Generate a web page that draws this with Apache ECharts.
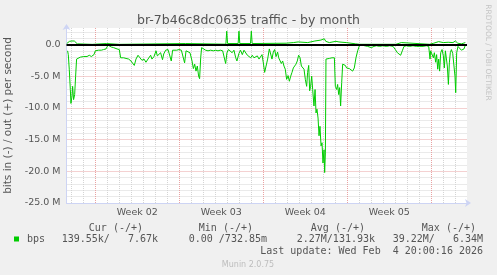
<!DOCTYPE html>
<html><head><meta charset="utf-8">
<script src="https://cdn.jsdelivr.net/npm/echarts@6/dist/echarts.min.js"></script>
<style>html,body{margin:0;padding:0;background:#f0f0f0}#c{width:497px;height:275px}</style>
</head><body><div id="c"></div>
<script>
// ---- text ----
const chartTitle = 'br-7b46c8dc0635 traffic - by month';
const yAxisName = 'bits in (-) / out (+) per second';
const weekLabels = ['Week 02', 'Week 03', 'Week 04', 'Week 05'];
const legendName = 'bps';
const legendHeaders = ['Cur (-/+)', 'Min (-/+)', 'Avg (-/+)', 'Max (-/+)'];
const legendValues = ['139.55k/   7.67k', '0.00 /732.85m', '2.27M/131.93k', '39.22M/   6.34M'];
const lastUpdate = 'Last update: Wed Feb  4 20:00:16 2026';
const footer = 'Munin 2.0.75';
const sideText = 'RRDTOOL / TOBI OETIKER';

// ---- data: x = days since Mon 5 Jan 2026 00:00, y = Mbit/s ----
const inDays = [-2.31,-2.25,-2.17,-2.08,-2.03,-1.94,-1.89,-1.81,-1.72,-1.64,-1.56,-1.44,-1.25,-0.97,-0.69,-0.5,-0.33,-0.11,0,0.28,0.5,0.69,0.89,1.06,1.17,1.33,1.53,1.81,2.0,2.11,2.36,2.56,2.78,2.97,3.11,3.25,3.39,3.56,3.72,3.89,4.06,4.22,4.39,4.5,4.61,4.72,4.89,5.06,5.17,5.28,5.44,5.6,5.7,5.86,6.06,6.22,6.33,6.44,6.56,6.78,6.97,7.17,7.33,7.44,7.56,7.72,7.89,8.06,8.17,8.28,8.39,8.5,8.61,8.69,8.78,8.86,9.0,9.19,9.39,9.61,9.83,10.03,10.22,10.42,10.61,10.75,10.86,10.97,11.1,11.2,11.4,11.55,11.7,11.8,11.97,12.1,12.25,12.39,12.53,12.67,12.8,12.95,13.08,13.22,13.36,13.5,13.64,13.78,13.89,14.0,14.11,14.2,14.36,14.5,14.61,14.72,14.83,14.94,15.06,15.19,15.28,15.39,15.5,15.61,15.72,15.83,15.94,16.06,16.17,16.28,16.39,16.5,16.61,16.72,16.83,16.94,17.06,17.17,17.28,17.39,17.5,17.61,17.69,17.78,17.86,17.94,18.03,18.11,18.22,18.31,18.39,18.47,18.56,18.64,18.72,18.81,18.89,18.97,19.06,19.11,19.17,19.22,19.31,19.5,19.72,19.92,20.0,20.11,20.19,20.28,20.36,20.44,20.53,20.61,20.72,20.83,20.94,21.06,21.17,21.31,21.44,21.58,21.72,21.86,22.0,22.22,22.44,22.69,23.0,23.22,23.42,23.69,23.97,24.25,24.53,24.81,25.0,25.17,25.31,25.44,25.58,25.72,25.92,26.19,26.47,26.75,27.03,27.31,27.58,27.78,27.89,27.94,28.06,28.17,28.25,28.36,28.44,28.53,28.61,28.69,28.78,28.89,29.0,29.08,29.17,29.25,29.33,29.42,29.5,29.58,29.67,29.78,29.89,29.97,30.03,30.11,30.22,30.36,30.5,30.61,30.72,30.83];
const inValues = [-1.0,-1.6,-3.9,-7.1,-9.3,-8.1,-6.6,-8.7,-7.9,-5.0,-2.3,-2.1,-2.0,-1.9,-1.9,-1.7,-1.9,-1.6,-1.0,-0.9,-0.9,-0.8,-0.7,-0.1,-0.3,-0.4,-0.5,-0.7,-0.8,-2.1,-2.1,-2.2,-2.3,-2.6,-2.4,-3.3,-2.3,-1.7,-2.1,-2.5,-2.3,-2.8,-2.3,-2.1,-1.7,-2.3,-1.9,-1.0,-1.8,-2.1,-1.3,-2.4,-1.5,-0.9,-0.8,-1.0,-2.6,-0.9,-0.7,-0.9,-0.8,-0.9,-0.8,-2.9,-1.0,-0.7,-1.3,-2.6,-3.8,-3.1,-4.2,-3.4,-5.0,-5.4,-2.1,-0.5,-0.7,-0.9,-1.0,-0.9,-1.0,-0.9,-1.0,-0.9,-1.0,-0.9,-3.0,-1.3,-0.8,-0.5,-1.3,-0.9,-2.1,-2.6,-1.4,-0.9,-1.6,-0.9,-1.2,-1.7,-1.6,-2.1,-1.7,-2.1,-2.4,-1.8,-2.3,-2.1,-1.6,-2.9,-4.4,-4.7,-2.3,-0.7,-0.5,-2.3,-1.2,-0.8,-1.9,-1.2,-2.1,-2.3,-3.0,-2.6,-3.4,-3.9,-5.5,-4.9,-5.8,-5.0,-4.4,-3.7,-3.9,-3.1,-2.6,-1.7,-2.1,-3.4,-3.3,-3.9,-5.5,-6.6,-4.4,-3.3,-7.3,-6.6,-5.0,-7.1,-9.7,-7.1,-10.8,-10.2,-11.6,-14.4,-12.9,-16.0,-15.5,-18.7,-16.6,-20.2,-17.1,-2.3,-2.1,-2.2,-2.1,-2.1,-6.6,-7.1,-6.3,-7.9,-6.8,-9.7,-6.0,-3.1,-3.4,-3.3,-3.7,-3.7,-3.8,-3.9,-4.2,-3.7,-2.1,-1.0,-0.2,-0.1,-0.2,-0.3,-0.5,-0.3,-0.2,-0.3,-0.2,-0.3,-0.2,-0.3,-0.8,-1.3,-1.6,-1.7,-1.0,-0.3,-0.2,-0.3,-0.2,-0.3,-0.3,-0.3,-0.2,-0.3,-2.3,-1.0,-0.7,-2.1,-1.3,-2.8,-1.6,-3.9,-2.3,-4.2,-1.3,-0.8,-1.8,-3.7,-1.0,-0.8,-3.4,-6.3,-2.9,-1.3,-0.8,-1.4,-1.2,-5.0,-7.6,-1.3,-0.3,-0.5,-0.9,-0.9,-0.7,-0.1];
const outDays = [-2.38,-2.3,-2.15,-1.95,-1.75,-1.6,-1.5,-1.4,-0.25,-0.2,0.95,1.0,2.0,2.05,7.5,7.55,10.88,10.95,11.02,11.9,11.97,12.04,12.93,13.0,13.07,15.9,16.5,16.9,17.7,18.3,18.8,19.08,19.2,19.5,20.05,20.3,20.9,21.7,22.0,25.05,25.1,25.5,25.55,27.85,27.9,28.2,28.6,29.0,29.4,29.8,30.0,30.2,30.5,30.83];
const outValues = [0.15,0.35,0.5,0.55,0.55,0.4,0.1,0.02,0.02,0.15,0.15,0.02,0.02,0.15,0.15,0.05,0.05,2.1,0.15,0.15,2.1,0.15,0.15,2.1,0.15,0.2,0.3,0.4,0.3,0.55,0.7,0.9,0.5,0.3,0.5,0.4,0.3,0.1,0.03,0.03,0.3,0.3,0.03,0.03,0.3,0.2,0.45,0.3,0.35,0.3,0.55,0.2,0.1,0.3];

const xMin = -2.4, xMax = 30.97;
const yMin = -25, yMax = 2.6;
const dayOffsets = [1, 2, 3, 4, 5, 6];   // day-lines between week lines
const mOffsets = [1, 2, 3, 4];           // 1M-lines between 5M lines

const inData = inDays.map((d, i) => [d, inValues[i]]);
const outData = outDays.map((d, i) => [d, outValues[i]]);

const FONT = 'DejaVu Sans';
const MONO = 'DejaVu Sans Mono';
const TXT = '#555';
const minorGrid = {show: true, showMinLine: false, showMaxLine: false, lineStyle: {color: '#d4d4d4', width: 1, type: [1, 1]}};
const majorGrid = {show: true, showMinLine: false, showMaxLine: false, lineStyle: {color: '#e9a2a2', width: 1, type: [1, 1]}};
const axisBlue = '#cdd4f4';
const hidden = {axisLine: {show: false, onZero: false}, axisTick: {show: false}, axisLabel: {show: false}};

const chart = echarts.init(document.getElementById('c'), null, {renderer: 'canvas'});
const headerRight = [143, 253, 365, 476];
const valueRight = [158, 267, 375, 483];
const graphics = [
  {type: 'rect', shape: {x: 14, y: 236.5, width: 5, height: 5}, style: {fill: '#00cc00'}},
  {type: 'text', x: 27, y: 239.5, style: {text: legendName, font: '10px "' + MONO + '"', fill: TXT, align: 'left', verticalAlign: 'middle'}},
  {type: 'text', x: 483, y: 251.5, style: {text: lastUpdate, font: '10px "' + MONO + '"', fill: TXT, align: 'right', verticalAlign: 'middle'}},
  {type: 'text', x: 248, y: 264.5, style: {text: footer, font: '8px "' + FONT + '"', fill: '#bdbdbd', align: 'center', verticalAlign: 'middle'}},
  {type: 'text', x: 488, y: 52.5, rotation: -Math.PI / 2, style: {text: sideText, font: '7.5px "' + FONT + '"', fill: '#c4c4c4', align: 'center', verticalAlign: 'middle'}}
];
legendHeaders.forEach((h, i) => graphics.push({type: 'text', x: headerRight[i], y: 228, style: {text: h, font: '10px "' + MONO + '"', fill: TXT, align: 'right', verticalAlign: 'middle'}}));
legendValues.forEach((v, i) => graphics.push({type: 'text', x: valueRight[i], y: 239.5, style: {text: v, font: '10px "' + MONO + '"', fill: TXT, align: 'right', verticalAlign: 'middle'}}));

// x axes: 0 = main (axis line), 1 = week grid, 2 = week labels (shifted half a week), 3.. = day grid
const xAxes = [
  {type: 'value', position: 'bottom', min: xMin, max: xMax, splitNumber: 5, minInterval: 7, maxInterval: 7,
   axisLine: {show: true, onZero: false, lineStyle: {color: axisBlue, width: 1}, symbol: ['none', 'arrow'], symbolSize: [6, 6], symbolOffset: [0, 4]},
   axisTick: {show: false}, axisLabel: {show: false}, splitLine: {show: false}},
  Object.assign({type: 'value', position: 'bottom', min: xMin, max: xMax, splitNumber: 5, minInterval: 7, maxInterval: 7, z: 2, splitLine: majorGrid}, hidden),
  {type: 'value', position: 'bottom', min: xMin - 3.5, max: xMax - 3.5, splitNumber: 5, minInterval: 7, maxInterval: 7,
   axisLine: {show: false, onZero: false}, axisTick: {show: false}, splitLine: {show: false},
   axisLabel: {show: true, margin: 5, color: TXT, fontFamily: FONT, fontSize: 9.5, showMinLabel: false, showMaxLabel: false,
     formatter: v => (weekLabels[v / 7] !== undefined ? weekLabels[v / 7] : '')}}
];
dayOffsets.forEach(r => xAxes.push(Object.assign({type: 'value', position: 'bottom', min: xMin - r, max: xMax - r,
  splitNumber: 5, minInterval: 7, maxInterval: 7, z: 1, splitLine: minorGrid}, hidden)));

// y axes: 0 = main (labels, 5M grid), 1.. = 1M grid
const yAxes = [
  {type: 'value', position: 'left', min: yMin, max: yMax, interval: 5, z: 2,
   name: yAxisName, nameLocation: 'middle', nameGap: 48, nameTextStyle: {fontFamily: FONT, fontSize: 10.5, color: TXT},
   axisLine: {show: true, onZero: false, lineStyle: {color: axisBlue, width: 1}, symbol: ['none', 'arrow'], symbolSize: [6, 6], symbolOffset: [0, 4]},
   axisTick: {show: false},
   axisLabel: {margin: 6, color: TXT, fontFamily: FONT, fontSize: 9.5, showMaxLabel: false,
     formatter: v => (v > 0.001 ? '' : (Math.abs(v) < 0.001 ? '0.0' : v.toFixed(1) + ' M'))},
   splitLine: majorGrid}
];
mOffsets.forEach(r => yAxes.push(Object.assign({type: 'value', position: 'left', min: yMin - r, max: yMax - r,
  splitNumber: 5, minInterval: 5, maxInterval: 5, z: 1, splitLine: minorGrid}, hidden)));

chart.setOption({
  animation: false,
  backgroundColor: '#f0f0f0',
  title: {text: chartTitle, left: 'center', top: 9, textStyle: {fontFamily: FONT, fontSize: 12.5, fontWeight: 'normal', color: TXT}},
  grid: {left: 66.5, right: 30, top: 28, bottom: 72, show: true, backgroundColor: '#ffffff', borderWidth: 0,
         containLabel: false, outerBoundsMode: 'none'},
  xAxis: xAxes,
  yAxis: yAxes,
  series: [
    {name: 'in', type: 'line', xAxisIndex: 0, yAxisIndex: 0, data: inData, showSymbol: false, silent: true, z: 3,
     lineStyle: {color: '#00cc00', width: 1}, itemStyle: {color: '#00cc00'}},
    {name: 'out', type: 'line', xAxisIndex: 0, yAxisIndex: 0, data: outData, showSymbol: false, silent: true, z: 3,
     lineStyle: {color: '#00cc00', width: 1}, itemStyle: {color: '#00cc00'},
     markLine: {silent: true, symbol: ['none', 'none'], label: {show: false}, animation: false,
       lineStyle: {color: '#000000', width: 2, type: 'solid'}, data: [{yAxis: 0}]}}
  ],
  graphic: graphics
});
</script>
</body></html>
